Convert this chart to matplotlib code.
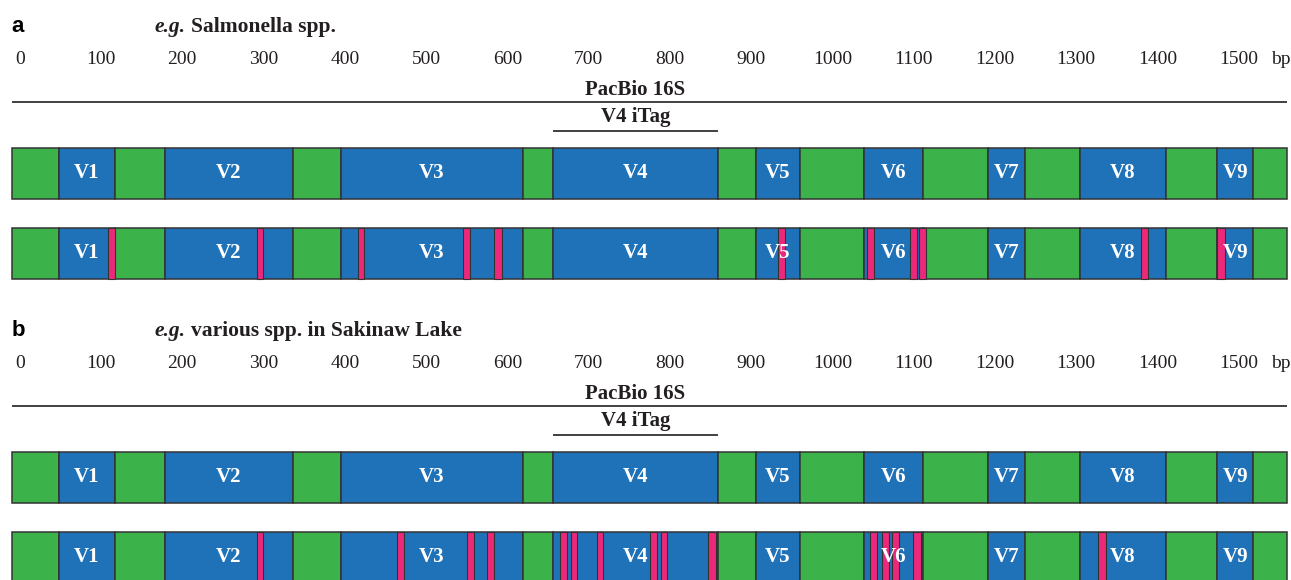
import matplotlib.pyplot as plt

# boundaries of the conserved / variable regions along the 16S gene (bp)
bounds = [-10, 48, 117, 179, 336, 395, 619, 656, 859, 906, 960, 1039,
          1111, 1191, 1237, 1305, 1410, 1473, 1518, 1559]
names = ["", "V1", "", "V2", "", "V3", "", "V4", "", "V5", "", "V6",
         "", "V7", "", "V8", "", "V9", ""]

ticks = [0, 100, 200, 300, 400, 500, 600, 700, 800, 900, 1000, 1100,
         1200, 1300, 1400, 1500]

letters = ["a", "b"]
organisms = ["Salmonella spp.", "various spp. in Sakinaw Lake"]

# mismatch positions (bp) for each panel
mis_a_start = [108.7, 292.0, 416.3, 545.5, 583.6, 933.1, 1042.6, 1095.5, 1106.6, 1379.7, 1473.3]
mis_a_end = [117.3, 299.4, 423.7, 554.1, 593.5, 941.7, 1051.2, 1104.1, 1115.2, 1388.3, 1483.1]
mis_b_start = [292.0, 464.3, 550.4, 575.0, 664.8, 678.4, 710.3, 775.5, 789.1, 847.0,
               1046.3, 1061.1, 1073.4, 1099.2, 1326.8]
mis_b_end = [299.4, 472.9, 559.0, 583.6, 673.4, 685.7, 717.7, 784.2, 796.5, 856.8,
             1054.9, 1069.7, 1082.0, 1109.0, 1336.6]

BLUE = "#1F71B8"
GREEN = "#3BB34A"
PINK = "#EC287A"
EDGE = "#333333"
INK = "#231F20"
SERIF = "Liberation Serif"

fig = plt.figure(figsize=(12.91, 5.80), dpi=100)
ax = fig.add_axes([0, 0, 1, 1])
ax.set_xlim(-24.2, 1564.3)
ax.set_ylim(580, 0)
ax.axis("off")

starts = bounds[:-1]
widths = [b - a for a, b in zip(bounds[:-1], bounds[1:])]
cols = [BLUE if n else GREEN for n in names]
v4 = names.index("V4")
v4_mid = (bounds[v4] + bounds[v4 + 1]) / 2

mismatches = [(mis_a_start, mis_a_end), (mis_b_start, mis_b_end)]

for k in range(2):
    p = 304 * k
    # panel letter and organism
    ax.text(bounds[0], 32 + p, letters[k], family="Liberation Sans", weight="bold",
            fontsize=16, va="baseline", ha="left", color="black")
    t = ax.text(166, 32 + p, "e.g.", family=SERIF, weight="bold", style="italic",
                fontsize=15.5, va="baseline", ha="left", color=INK)
    ax.annotate(organisms[k], xy=(1, 0), xycoords=t, xytext=(4, 0),
                textcoords="offset points", family=SERIF, weight="bold",
                fontsize=15.5, va="bottom", ha="left", color=INK)

    # scale
    for v in ticks:
        ax.text(v, 64 + p, str(v), family=SERIF, fontsize=14, ha="center",
                va="baseline", color=INK)
    ax.text(1552, 64 + p, "bp", family=SERIF, fontsize=14, ha="center",
            va="baseline", color=INK)

    # amplicon spans
    ax.text(v4_mid, 95 + p, "PacBio 16S", family=SERIF, weight="bold", fontsize=15,
            ha="center", va="baseline", color=INK)
    ax.plot([bounds[0], bounds[-1]], [101.5 + p] * 2, color=INK, lw=1.2,
            solid_capstyle="butt")
    ax.text(v4_mid, 122 + p, "V4 iTag", family=SERIF, weight="bold", fontsize=15,
            ha="center", va="baseline", color=INK)
    ax.plot([bounds[v4], bounds[v4 + 1]], [131 + p] * 2, color=INK, lw=1.2,
            solid_capstyle="butt")

    # two tracks: reference and the one with mismatches
    for r, yc in enumerate([173.5 + p, 253.5 + p]):
        ax.barh(yc, widths, height=51, left=starts, color=cols,
                edgecolor=EDGE, linewidth=1.1, zorder=2)
        if r == 1:
            s, e = mismatches[k]
            ax.barh(yc, [b - a for a, b in zip(s, e)], height=51, left=s,
                    color=PINK, edgecolor=EDGE, linewidth=0.8, zorder=3)
        for n, a, w in zip(names, starts, widths):
            if n:
                ax.text(a + w / 2, yc, n, family=SERIF, weight="bold", fontsize=15,
                        color="white", ha="center", va="center", zorder=4)

fig.savefig("out.png", dpi=100)
